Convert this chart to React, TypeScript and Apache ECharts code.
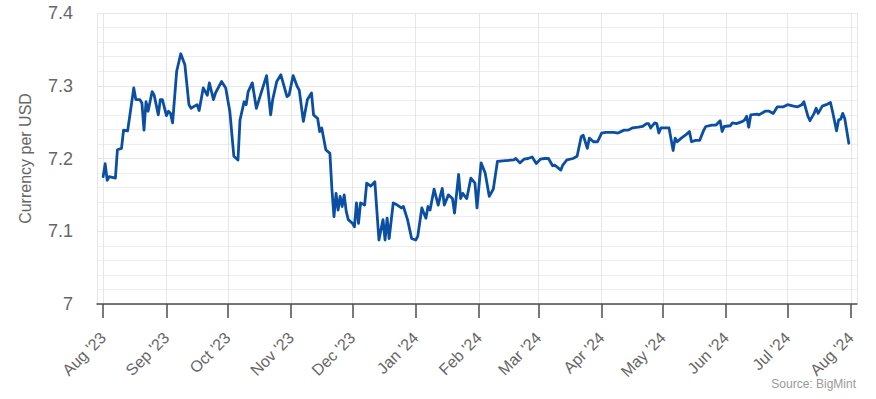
import React, { useEffect, useRef } from "react";
import * as echarts from "echarts";

const dates: string[] = [
  "2023-08-01","2023-08-02","2023-08-03","2023-08-04","2023-08-07","2023-08-08","2023-08-10","2023-08-11","2023-08-13","2023-08-16",
  "2023-08-17","2023-08-19","2023-08-20","2023-08-21","2023-08-22","2023-08-23","2023-08-25","2023-08-26","2023-08-28","2023-08-29",
  "2023-08-30","2023-09-01","2023-09-02","2023-09-03","2023-09-04","2023-09-06","2023-09-08","2023-09-10","2023-09-12","2023-09-13",
  "2023-09-16","2023-09-17","2023-09-19","2023-09-21","2023-09-22","2023-09-24","2023-09-25","2023-09-28","2023-09-30","2023-10-02",
  "2023-10-04","2023-10-06","2023-10-07","2023-10-09","2023-10-10","2023-10-11","2023-10-13","2023-10-15","2023-10-17","2023-10-20",
  "2023-10-22","2023-10-23","2023-10-25","2023-10-27","2023-10-30","2023-10-31","2023-11-02","2023-11-04","2023-11-05","2023-11-07",
  "2023-11-09","2023-11-11","2023-11-12","2023-11-14","2023-11-15","2023-11-16","2023-11-18","2023-11-20","2023-11-21","2023-11-22",
  "2023-11-23","2023-11-24","2023-11-25","2023-11-26","2023-11-27","2023-11-28","2023-11-29","2023-12-01","2023-12-02","2023-12-03",
  "2023-12-04","2023-12-05","2023-12-07","2023-12-08","2023-12-10","2023-12-12","2023-12-14","2023-12-16","2023-12-17","2023-12-18",
  "2023-12-19","2023-12-21","2023-12-23","2023-12-25","2023-12-26","2023-12-27","2023-12-28","2023-12-30","2024-01-01","2024-01-02",
  "2024-01-04","2024-01-06","2024-01-07","2024-01-08","2024-01-10","2024-01-12","2024-01-13","2024-01-14","2024-01-15","2024-01-17",
  "2024-01-19","2024-01-20","2024-01-22","2024-01-23","2024-01-24","2024-01-26","2024-01-28","2024-01-30","2024-01-31","2024-02-02",
  "2024-02-04","2024-02-06","2024-02-08","2024-02-10","2024-02-14","2024-02-18","2024-02-19","2024-02-21","2024-02-23","2024-02-25",
  "2024-02-27","2024-02-29","2024-03-02","2024-03-04","2024-03-06","2024-03-08","2024-03-09","2024-03-12","2024-03-13","2024-03-15",
  "2024-03-18","2024-03-20","2024-03-22","2024-03-23","2024-03-25","2024-03-26","2024-03-28","2024-03-30","2024-04-01","2024-04-03",
  "2024-04-07","2024-04-09","2024-04-12","2024-04-14","2024-04-16","2024-04-19","2024-04-21","2024-04-23","2024-04-24","2024-04-25",
  "2024-04-27","2024-04-28","2024-04-29","2024-04-30","2024-05-04","2024-05-06","2024-05-07","2024-05-08","2024-05-10","2024-05-12",
  "2024-05-14","2024-05-15","2024-05-17","2024-05-19","2024-05-21","2024-05-22","2024-05-25","2024-05-27","2024-05-29","2024-05-30",
  "2024-05-31","2024-06-03","2024-06-04","2024-06-06","2024-06-09","2024-06-10","2024-06-11","2024-06-12","2024-06-13","2024-06-16",
  "2024-06-17","2024-06-20","2024-06-22","2024-06-24","2024-06-26","2024-06-29","2024-07-01","2024-07-04","2024-07-06","2024-07-08",
  "2024-07-09","2024-07-11","2024-07-12","2024-07-14","2024-07-15","2024-07-16","2024-07-18","2024-07-20","2024-07-22","2024-07-23",
  "2024-07-25","2024-07-26","2024-07-27","2024-07-28","2024-07-29","2024-07-31",
];

const rates: number[] = [
  7.175,7.193,7.170,7.175,7.173,7.212,7.214,7.239,7.238,7.297,
  7.281,7.281,7.276,7.239,7.278,7.265,7.292,7.287,7.260,7.281,
  7.281,7.259,7.265,7.262,7.249,7.320,7.344,7.329,7.274,7.269,
  7.274,7.266,7.297,7.287,7.304,7.281,7.290,7.306,7.297,7.265,
  7.203,7.198,7.253,7.278,7.274,7.292,7.304,7.269,7.287,7.314,
  7.260,7.281,7.306,7.315,7.285,7.287,7.314,7.299,7.294,7.251,
  7.281,7.290,7.260,7.255,7.237,7.242,7.212,7.207,7.157,7.120,
  7.152,7.129,7.148,7.134,7.150,7.127,7.116,7.111,7.106,7.139,
  7.111,7.139,7.136,7.166,7.162,7.168,7.088,7.116,7.088,7.118,
  7.090,7.139,7.136,7.132,7.134,7.125,7.116,7.090,7.088,7.093,
  7.132,7.118,7.134,7.129,7.158,7.136,7.148,7.159,7.136,7.150,
  7.145,7.125,7.178,7.145,7.152,7.145,7.173,7.166,7.132,7.194,
  7.180,7.148,7.158,7.196,7.197,7.198,7.200,7.194,7.199,7.200,
  7.202,7.193,7.199,7.200,7.200,7.190,7.191,7.184,7.191,7.198,
  7.200,7.203,7.230,7.232,7.214,7.228,7.223,7.223,7.235,7.236,
  7.236,7.235,7.239,7.239,7.242,7.243,7.244,7.248,7.248,7.242,
  7.249,7.248,7.235,7.242,7.242,7.211,7.228,7.223,7.228,7.232,
  7.237,7.223,7.225,7.225,7.239,7.244,7.246,7.246,7.252,7.237,
  7.244,7.245,7.249,7.248,7.251,7.253,7.258,7.243,7.260,7.261,
  7.260,7.265,7.265,7.262,7.271,7.271,7.274,7.272,7.271,7.274,
  7.278,7.258,7.252,7.262,7.269,7.262,7.272,7.274,7.277,7.265,
  7.238,7.253,7.254,7.262,7.255,7.221,
];

const monthNames: string[] = ["Jan","Feb","Mar","Apr","May","Jun","Jul","Aug","Sep","Oct","Nov","Dec"];
const yTicks: number[] = [7, 7.1, 7.2, 7.3, 7.4];
const axisTitle = "Currency per USD";
const sourceText = "Source: BigMint";

const FONT = "'Liberation Sans', Arial, Helvetica, sans-serif";

export default function App() {
  const ref = useRef<HTMLDivElement>(null);
  useEffect(() => {
    document.body.style.margin = "0";
    if (!ref.current) return;
    const chart = echarts.init(ref.current, undefined, { renderer: "svg" });
    const data = dates.map((d, i) => [d, rates[i]]);
    chart.setOption({
      animation: false,
      backgroundColor: "#ffffff",
      grid: { left: 97, right: 19, top: 13, bottom: 95, containLabel: false },
      xAxis: {
        type: "time",
        min: "2023-07-29",
        max: "2024-08-04",
        minInterval: 28 * 86400000,
        maxInterval: 31 * 86400000,
        axisLine: { show: true, lineStyle: { color: "#4d4d4d", width: 1.5 } },
        axisTick: { show: true, length: 14, lineStyle: { color: "#4d4d4d", width: 1.5 } },
        splitLine: { show: true, lineStyle: { color: "#e6e6e6", width: 1 } },
        axisLabel: {
          rotate: 45,
          margin: 31,
          color: "#666666",
          fontSize: 16,
          fontFamily: FONT,
          showMinLabel: false,
          showMaxLabel: false,
          formatter: (v: number) => {
            const d = new Date(v);
            return monthNames[d.getMonth()] + " '" + String(d.getFullYear()).slice(2);
          },
        },
      },
      yAxis: {
        type: "value",
        min: yTicks[0],
        max: yTicks[yTicks.length - 1],
        interval: 0.1,
        name: axisTitle,
        nameLocation: "middle",
        nameGap: 64,
        nameTextStyle: { color: "#666666", fontSize: 16, fontFamily: FONT },
        axisLine: { show: false },
        axisTick: { show: false },
        axisLabel: {
          color: "#666666",
          fontSize: 18,
          fontFamily: FONT,
          margin: 24,
          formatter: (v: number) => String(+v.toFixed(1)),
        },
        splitLine: { show: true, lineStyle: { color: "#e6e6e6", width: 1 } },
        minorTick: { show: false, splitNumber: 5 },
        minorSplitLine: { show: true, lineStyle: { color: "#eeeeee", width: 1 } },
      },
      graphic: [
        {
          type: "text",
          right: 20,
          bottom: 9,
          style: { text: sourceText, fill: "#999999", fontSize: 12, fontFamily: FONT },
        },
      ],
      series: [
        {
          type: "line",
          data,
          showSymbol: false,
          symbol: "none",
          lineStyle: { color: "#0b4fa3", width: 2.8, join: "round", cap: "round" },
          itemStyle: { color: "#0b4fa3" },
        },
      ],
    });
    return () => chart.dispose();
  }, []);
  return <div ref={ref} style={{ width: 876, height: 399 }} />;
}
